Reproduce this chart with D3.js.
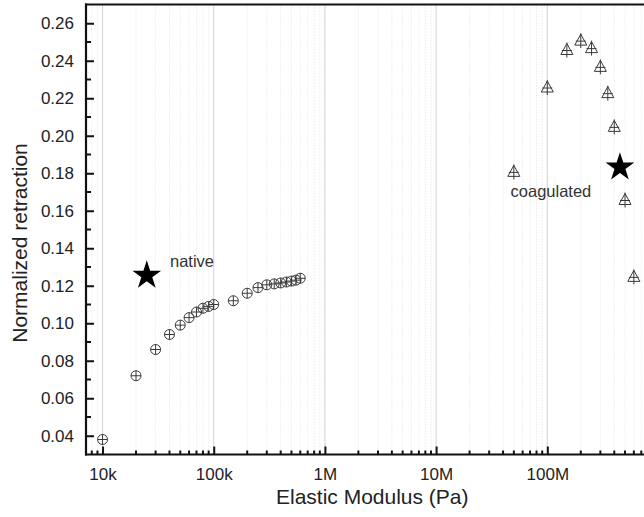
<!DOCTYPE html>
<html>
<head>
<meta charset="utf-8">
<script src="https://cdn.jsdelivr.net/npm/d3@7"></script>
<style>
  html, body { margin: 0; padding: 0; background: #fff; }
  svg { display: block; font-family: "Liberation Sans", Arial, sans-serif; }
</style>
</head>
<body>
<svg id="chart" width="644" height="517"></svg>
<script>
// ---- data ----
const nativeModulus = [1e4, 2e4, 3e4, 4e4, 5e4, 6e4, 7e4, 8e4, 9e4, 1e5, 1.5e5, 2e5, 2.5e5, 3e5, 3.5e5, 4e5, 4.5e5, 5e5, 5.5e5, 6e5];
const nativeRetraction = [0.038, 0.072, 0.086, 0.094, 0.099, 0.103, 0.106, 0.108, 0.109, 0.110, 0.112, 0.116, 0.119, 0.1205, 0.121, 0.1215, 0.122, 0.1225, 0.123, 0.124];
const coagModulus = [5e7, 1e8, 1.5e8, 2e8, 2.5e8, 3e8, 3.5e8, 4e8, 5e8, 6e8];
const coagRetraction = [0.181, 0.226, 0.246, 0.251, 0.247, 0.237, 0.223, 0.205, 0.166, 0.125];
const starModulus = [2.5e4, 4.5e8];
const starRetraction = [0.1255, 0.1832];
const labelTexts = ["native", "coagulated"];
const labelModulus = [4.04e4, 4.67e7];
const labelRetraction = [0.1302, 0.1675];
const xTickValues = [1e4, 1e5, 1e6, 1e7, 1e8];
const xTickLabels = ["10k", "100k", "1M", "10M", "100M"];
const yTickValues = [0.04, 0.06, 0.08, 0.10, 0.12, 0.14, 0.16, 0.18, 0.20, 0.22, 0.24, 0.26];
const xTitle = "Elastic Modulus (Pa)";
const yTitle = "Normalized retraction";

// ---- layout ----
const svg = d3.select("#chart");
const pL = 86, pR = 658.5, pT = 4.5, pB = 454.5;
const x = d3.scaleLog().domain([7100, 1e9]).range([pL, pR]);
const y = d3.scaleLinear().domain([0.03, 0.27]).range([pB, pT]);

// minor x positions
const xMinor = [];
for (let e = 3; e <= 8; e++) for (let m = 2; m <= 9; m++) {
  const v = m * Math.pow(10, e);
  if (v >= x.domain()[0] && v <= x.domain()[1]) xMinor.push(v);
}
const yMinor = d3.range(0.03, 0.2601, 0.02).map(v => +v.toFixed(3)).filter(v => v > 0.031);

// grid
const grid = svg.append("g");
grid.selectAll("line.minor").data(xMinor).join("line")
  .attr("x1", d => x(d)).attr("x2", d => x(d))
  .attr("y1", pT).attr("y2", pB)
  .attr("stroke", "#e0e0e0").attr("stroke-width", 1)
  .attr("stroke-dasharray", "1,2");
grid.selectAll("line.major").data(xTickValues).join("line")
  .attr("x1", d => x(d)).attr("x2", d => x(d))
  .attr("y1", pT).attr("y2", pB)
  .attr("stroke", "#d2d2d2").attr("stroke-width", 1);

// x axis
const xAxis = svg.append("g").attr("transform", `translate(0,${pB})`);
xAxis.call(d3.axisBottom(x).tickValues(xTickValues).tickFormat((d, i) => xTickLabels[i]).tickSize(-8).tickPadding(13));
xAxis.append("g").selectAll("line").data(xMinor).join("line")
  .attr("x1", d => x(d)).attr("x2", d => x(d)).attr("y1", 0).attr("y2", -4)
  .attr("stroke", "#111").attr("stroke-width", 2);
xAxis.select(".domain").remove();
xAxis.selectAll(".tick line").attr("stroke", "#111").attr("stroke-width", 2);
xAxis.selectAll(".tick text").attr("font-size", 17).attr("fill", "#222").attr("font-family", "'Liberation Sans', Arial, sans-serif");

// y axis
const yAxis = svg.append("g").attr("transform", `translate(${pL},0)`);
yAxis.call(d3.axisLeft(y).tickValues(yTickValues).tickFormat(d3.format(".2f")).tickSize(-8).tickPadding(12));
yAxis.append("g").selectAll("line").data(yMinor).join("line")
  .attr("y1", d => y(d)).attr("y2", d => y(d)).attr("x1", 0).attr("x2", 5)
  .attr("stroke", "#111").attr("stroke-width", 2);
yAxis.select(".domain").remove();
yAxis.selectAll(".tick line").attr("stroke", "#111").attr("stroke-width", 2);
yAxis.selectAll(".tick text").attr("font-size", 17).attr("fill", "#222").attr("font-family", "'Liberation Sans', Arial, sans-serif");

// frame
svg.append("line").attr("x1", pL).attr("x2", pL).attr("y1", pT - 1).attr("y2", pB + 1)
  .attr("stroke", "#111").attr("stroke-width", 2.2);
svg.append("line").attr("x1", pL - 1).attr("x2", pR).attr("y1", pB).attr("y2", pB)
  .attr("stroke", "#111").attr("stroke-width", 2.2);
svg.append("line").attr("x1", pL - 1).attr("x2", pR).attr("y1", pT).attr("y2", pT)
  .attr("stroke", "#111").attr("stroke-width", 2.2);
svg.append("line").attr("x1", pR).attr("x2", pR).attr("y1", pT).attr("y2", pB)
  .attr("stroke", "#111").attr("stroke-width", 2.2);

// titles
svg.append("text").attr("x", (pL + pR) / 2).attr("y", 504)
  .attr("text-anchor", "middle").attr("font-size", 21).attr("fill", "#222").text(xTitle);
svg.append("text").attr("transform", "translate(27,243) rotate(-90)")
  .attr("text-anchor", "middle").attr("font-size", 21).attr("fill", "#222").text(yTitle);

// native circles
const mk = "#3a3a3a";
const nat = svg.append("g").selectAll("g").data(nativeModulus).join("g")
  .attr("transform", (d, i) => `translate(${x(d)},${y(nativeRetraction[i])})`);
nat.append("circle").attr("r", 5).attr("fill", "none").attr("stroke", mk).attr("stroke-width", 1);
nat.append("path").attr("d", "M-5,0H5M0,-5V5").attr("stroke", mk).attr("stroke-width", 1);

// coagulated triangles
const coag = svg.append("g").selectAll("g").data(coagModulus).join("g")
  .attr("transform", (d, i) => `translate(${x(d)},${y(coagRetraction[i])})`);
coag.append("path").attr("d", "M0,-6L-6,5L6,5Z").attr("fill", "none").attr("stroke", mk).attr("stroke-width", 1);
coag.append("path").attr("d", "M0,-7V8M-5,1H5").attr("stroke", mk).attr("stroke-width", 1);

// stars
svg.append("g").selectAll("path").data(starModulus).join("path")
  .attr("transform", (d, i) => `translate(${x(d)},${y(starRetraction[i])})`)
  .attr("d", d3.symbol().type(d3.symbolStar).size(255))
  .attr("fill", "#000");

// labels
svg.append("g").selectAll("text").data(labelTexts).join("text")
  .attr("x", (d, i) => x(labelModulus[i]))
  .attr("y", (d, i) => y(labelRetraction[i]))
  .attr("font-size", 16.5).attr("fill", "#333").text(d => d);
</script>
</body>
</html>
